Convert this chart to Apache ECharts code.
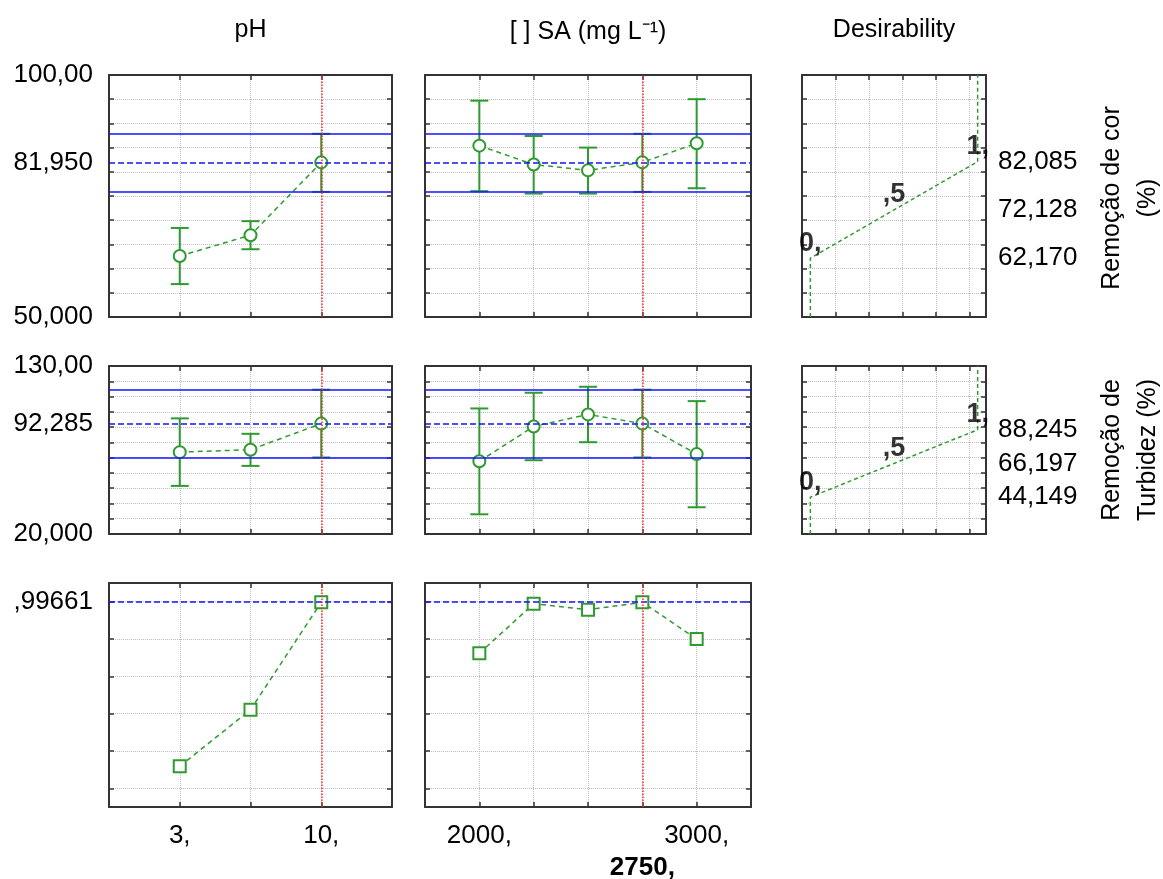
<!DOCTYPE html>
<html><head><meta charset="utf-8">
<script src="https://cdn.jsdelivr.net/npm/echarts@6/dist/echarts.min.js"></script>
<style>html,body{margin:0;padding:0;background:#fff}#c{width:1163px;height:879px}</style>
</head><body><div id="c"></div><script>
// ---- data ----
const phX = [3, 6.5, 10];
const saX = [2000, 2250, 2500, 2750, 3000];
const corPhMean = [62.6, 66.9, 81.95];
const corPhLow = [56.8, 64.0, 75.85];
const corPhHigh = [68.4, 69.8, 87.85];
const corSaMean = [85.4, 81.5, 80.3, 81.95, 85.9];
const corSaLow = [76.0, 75.5, 75.5, 75.85, 76.6];
const corSaHigh = [94.7, 87.4, 85.0, 87.85, 95.0];
const turbPhMean = [73.6, 75.2, 92.285];
const turbPhLow = [51.5, 64.6, 70.1];
const turbPhHigh = [95.7, 85.6, 114.5];
const turbSaMean = [67.6, 90.4, 98.3, 92.285, 72.3];
const turbSaLow = [32.9, 68.3, 80.1, 70.1, 37.5];
const turbSaHigh = [102.2, 112.5, 116.4, 114.5, 107.0];
const desPh = [0.118, 0.421, 0.99661];
const desSa = [0.723, 0.989, 0.957, 0.99661, 0.80];
const currentPh = 10;
const currentSa = 2750;
const corCurrent = 81.95;
const corCI = [75.85, 87.85];
const turbCurrent = 92.285;
const turbCI = [70.1, 114.5];
const desCurrent = 0.99661;
const desLevels = [0, 0.5, 1];
const desLevelLabels = ['0,', ',5', '1,'];
const corDesY = [62.17, 72.128, 82.085];
const turbDesY = [44.149, 66.197, 88.245];
const corRange = [50, 100];
const turbRange = [20, 130];
const desRange = [-0.1, 1.1];
const phRange = [-0.5, 13.5];
const saRange = [1750, 3250];
const desXRange = [-0.05, 1.05];
const desXTicks = [0.15, 0.35, 0.55, 0.75, 0.95];
const desYTicks = [0, 0.2, 0.4, 0.6, 0.8, 1.0];
const phLabelValues = [3, 10];
const saLabelValues = [2000, 3000];
const colTitles = ['pH', '[ ] SA (mg L\u207B\u00B9)', 'Desirability'];
const rowTitles = ['Remoção de cor\n(%)', 'Remoção de\nTurbidez (%)'];

// ---- style ----
const FONT = 'Liberation Sans, Arial, sans-serif';
const GREEN = '#2f9a2f', BLUE = '#1414ff', RED = '#ff2a2a', FRAME = '#333', GRIDC = '#bdbdbd';
const cols = [{left:109, width:283}, {left:425, width:326}, {left:802, width:184}];
const rows = [{top:75, height:242}, {top:366, height:168}, {top:583, height:224}];
const cells = [[0,0],[0,1],[0,2],[1,0],[1,1],[1,2],[2,0],[2,1]];

const fmt5 = v => Number(v).toPrecision(5).replace(/^0\./, '.').replace('.', ',');

const xSpecs = [
  {range: phRange, ticks: phX},
  {range: saRange, ticks: saX},
  {range: desXRange, ticks: desXTicks}
];
const ySpecs = [
  {range: corRange, interval: 5, labels: [corRange[0], corCurrent, corRange[1]], desLabels: corDesY},
  {range: turbRange, interval: 10, labels: [turbRange[0], turbCurrent, turbRange[1]], desLabels: turbDesY},
  {range: desRange, ticks: desYTicks, labels: [desCurrent]}
];

const grids = [], xAxes = [], yAxes = [];
const tickBase = () => ({show:true, inside:true, length:5, lineStyle:{color:FRAME, width:1.5}});
const lineBase = {show:true, onZero:false, lineStyle:{color:FRAME, width:2}};
const labelBase = {color:'#000', fontSize:26, fontFamily:FONT};

cells.forEach(([r, c], g) => {
  grids.push({left: cols[c].left, top: rows[r].top, width: cols[c].width, height: rows[r].height, containLabel:false});
  const xs = xSpecs[c], ys = ySpecs[r];
  const xTick = Object.assign(tickBase(), {customValues: xs.ticks});
  let xLabel = {show:false};
  if (r === 2) {
    xLabel = Object.assign({}, labelBase, {margin:16, hideOverlap:false,
      customValues: c === 0 ? phLabelValues : saLabelValues, formatter: v => v + ','});
  }
  xAxes.push({gridIndex:g, type:'value', position:'bottom', min:xs.range[0], max:xs.range[1],
    axisLine: lineBase, axisTick: xTick,
    splitLine:{show:true, lineStyle:{color:GRIDC, type:'dotted', width:1}}, axisLabel: xLabel});
  xAxes.push({gridIndex:g, type:'value', position:'top', min:xs.range[0], max:xs.range[1],
    axisLine: lineBase, axisTick: Object.assign(tickBase(), {customValues: xs.ticks}),
    splitLine:{show:false}, axisLabel:{show:false}});

  const yTick = () => ys.ticks ? Object.assign(tickBase(), {customValues: ys.ticks}) : tickBase();
  const leftLabel = c === 0 ?
    Object.assign({}, labelBase, {margin:16, customValues: ys.labels, formatter: fmt5}) : {show:false};
  const rightLabel = c === 2 ?
    Object.assign({}, labelBase, {margin:12, customValues: ys.desLabels, formatter: fmt5}) : {show:false};
  yAxes.push({gridIndex:g, type:'value', position:'left', min:ys.range[0], max:ys.range[1],
    interval: ys.interval, axisLine: lineBase, axisTick: yTick(),
    splitLine:{show:true, lineStyle:{color:GRIDC, type:'dotted', width:1}}, axisLabel: leftLabel});
  yAxes.push({gridIndex:g, type:'value', position:'right', min:ys.range[0], max:ys.range[1],
    interval: ys.interval, axisLine: lineBase, axisTick: yTick(),
    splitLine:{show:false}, axisLabel: rightLabel});
});

const series = [];
function errBars(g, xs, lo, hi) {
  series.push({type:'custom', xAxisIndex:2*g, yAxisIndex:2*g, z:3,
    data: xs.map((x, i) => [x, lo[i], hi[i]]),
    encode: {x:0, y:[1, 2]},
    renderItem: (params, api) => {
      const x = api.value(0), p1 = api.coord([x, api.value(1)]), p2 = api.coord([x, api.value(2)]);
      const w = 9, st = {stroke: GREEN, lineWidth: 2};
      return {type:'group', children:[
        {type:'line', shape:{x1:p1[0], y1:p1[1], x2:p2[0], y2:p2[1]}, style: st},
        {type:'line', shape:{x1:p1[0]-w, y1:p1[1], x2:p1[0]+w, y2:p1[1]}, style: st},
        {type:'line', shape:{x1:p2[0]-w, y1:p2[1], x2:p2[0]+w, y2:p2[1]}, style: st}
      ]};
    }});
}
function meanLine(g, xs, ys, symbol) {
  series.push({type:'line', xAxisIndex:2*g, yAxisIndex:2*g, z:4,
    data: xs.map((x, i) => [x, ys[i]]),
    symbol: symbol, symbolSize: 12, showSymbol:true,
    lineStyle:{color:GREEN, width:1.5, type:[5, 4]},
    itemStyle:{color:GREEN, borderColor:GREEN, borderWidth:1.5}});
}
function refLines(g, hl, vx, vLabel) {
  const data = [];
  hl.forEach(h => data.push({yAxis: h.y, lineStyle:{color:BLUE, width:1.5, type: h.type}}));
  const v = {xAxis: vx, lineStyle:{color:RED, width:1.5, type:'dotted'}};
  if (vLabel) {
    v.label = {show:true, position:'start', distance:[0, 48], formatter: vx + ',',
      color:'#000', fontSize:26, fontWeight:'bold', fontFamily:FONT};
  }
  data.push(v);
  series.push({type:'line', xAxisIndex:2*g, yAxisIndex:2*g, z:2, data: [],
    markLine:{silent:true, symbol:'none', label:{show:false}, animation:false, data: data}});
}
function desFn(g, yr, dy) {
  const pts = [[desLevels[0], yr[0]]].concat(desLevels.map((d, i) => [d, dy[i]])).concat([[desLevels[2], yr[1]]]);
  series.push({type:'line', xAxisIndex:2*g, yAxisIndex:2*g, z:3, data: pts, symbol:'none',
    lineStyle:{color:GREEN, width:1.5, type:[4, 3]}});
  series.push({type:'scatter', xAxisIndex:2*g, yAxisIndex:2*g, z:5,
    data: desLevels.map((d, i) => [d, dy[i]]), symbolSize:1, itemStyle:{color:'rgba(0,0,0,0)'},
    label:{show:true, position:'top', distance:1, color:'#000', fontSize:27, fontWeight:'bold', fontFamily:FONT,
      formatter: p => desLevelLabels[p.dataIndex]}});
}

// row 1
refLines(0, [{y:corCI[0], type:'solid'}, {y:corCI[1], type:'solid'}, {y:corCurrent, type:'dashed'}], currentPh);
errBars(0, phX, corPhLow, corPhHigh); meanLine(0, phX, corPhMean, 'emptyCircle');
refLines(1, [{y:corCI[0], type:'solid'}, {y:corCI[1], type:'solid'}, {y:corCurrent, type:'dashed'}], currentSa);
errBars(1, saX, corSaLow, corSaHigh); meanLine(1, saX, corSaMean, 'emptyCircle');
desFn(2, corRange, corDesY);
// row 2
refLines(3, [{y:turbCI[0], type:'solid'}, {y:turbCI[1], type:'solid'}, {y:turbCurrent, type:'dashed'}], currentPh);
errBars(3, phX, turbPhLow, turbPhHigh); meanLine(3, phX, turbPhMean, 'emptyCircle');
refLines(4, [{y:turbCI[0], type:'solid'}, {y:turbCI[1], type:'solid'}, {y:turbCurrent, type:'dashed'}], currentSa);
errBars(4, saX, turbSaLow, turbSaHigh); meanLine(4, saX, turbSaMean, 'emptyCircle');
desFn(5, turbRange, turbDesY);
// row 3
refLines(6, [{y:desCurrent, type:'dashed'}], currentPh);
meanLine(6, phX, desPh, 'emptyRect');
refLines(7, [{y:desCurrent, type:'dashed'}], currentSa, true);
meanLine(7, saX, desSa, 'emptyRect');

const titleStyle = {fill:'#000', fontSize:25, fontFamily:FONT, align:'center', verticalAlign:'middle'};
const graphic = [
  {type:'text', x: 250.5, y: 30, style: Object.assign({text: colTitles[0]}, titleStyle)},
  {type:'text', x: 588, y: 32, style: Object.assign({text: colTitles[1]}, titleStyle)},
  {type:'text', x: 894, y: 30, style: Object.assign({text: colTitles[2]}, titleStyle)},
  {type:'text', x: 1130, y: 198, rotation: Math.PI/2, style: Object.assign({text: rowTitles[0], lineHeight:36}, titleStyle)},
  {type:'text', x: 1130, y: 450, rotation: Math.PI/2, style: Object.assign({text: rowTitles[1], lineHeight:36}, titleStyle)}
];

const chart = echarts.init(document.getElementById('c'), null, {renderer:'canvas'});
chart.setOption({animation:false, backgroundColor:'#fff', grid: grids, xAxis: xAxes, yAxis: yAxes, series: series, graphic: graphic});
</script></body></html>
